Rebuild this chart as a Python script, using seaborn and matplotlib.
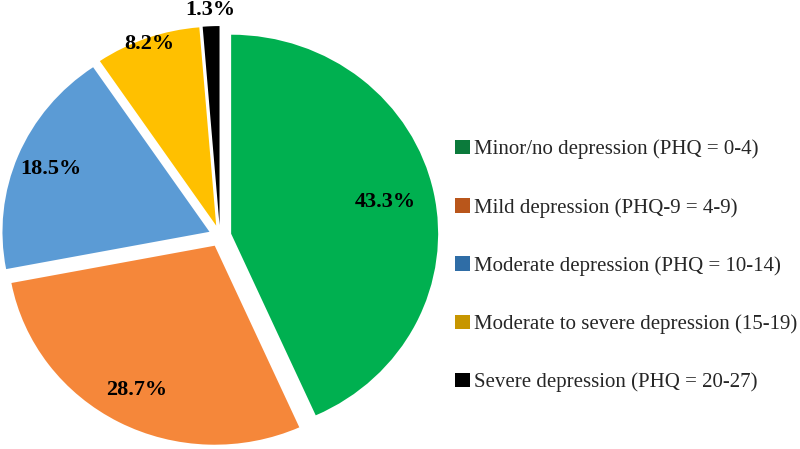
import matplotlib
matplotlib.use("Agg")
import matplotlib.pyplot as plt
import matplotlib.patches as mpatches
import numpy as np
import seaborn as sns

categories = [
    "Minor/no depression (PHQ = 0-4)",
    "Mild depression (PHQ-9 = 4-9)",
    "Moderate depression (PHQ = 10-14)",
    "Moderate to severe depression (15-19)",
    "Severe depression (PHQ = 20-27)",
]
values = [43.3, 28.7, 18.5, 8.2, 1.3]
value_labels = ["43.3%", "28.7%", "18.5%", "8.2%", "1.3%"]

slice_colors = ["#00B050", "#F5873A", "#5B9BD5", "#FFC000", "#000000"]
legend_colors = ["#0B7A3B", "#B9561B", "#2F6DA6", "#C79600", "#000000"]
label_dist = [0.76, 0.82, 0.83, 0.97, 1.08]

sns.set_theme(style="white")
plt.rcParams["font.family"] = ["Liberation Serif", "DejaVu Serif"]

fig = plt.figure(figsize=(8, 4.49), dpi=100)
W, H = 800, 449
Rh, Rv = 207.0, 199.0   # pixels per data unit (x, y)
cx, cy = 220, 236       # pixel center (from top-left)
ax_w = 450
ax = fig.add_axes([0, 0, ax_w / W, 1])

wedges, _ = ax.pie(values, colors=slice_colors, startangle=90, counterclock=False,
                   explode=[0.055] * len(values), radius=1.0,
                   wedgeprops=dict(linewidth=0), frame=True)
ax.set_aspect("auto")
ax.set_xlim(-cx / Rh, (ax_w - cx) / Rh)
ax.set_ylim(-(H - cy) / Rv, cy / Rv)
ax.axis("off")

for w, lab, d in zip(wedges, value_labels, label_dist):
    ang = np.deg2rad((w.theta1 + w.theta2) / 2)
    x0, y0 = w.center
    ax.text(x0 + d * w.r * np.cos(ang), y0 + d * w.r * np.sin(ang), lab,
            ha="center", va="center", fontsize=16, fontweight="bold", color="black")

handles = [mpatches.Patch(facecolor=c, edgecolor="none") for c in legend_colors]
leg = fig.legend(handles, categories, loc="center left",
                 bbox_to_anchor=(455 / W, (H - 266) / H),
                 frameon=False, fontsize=15, handlelength=0.7, handleheight=0.7,
                 handletextpad=0.22, labelspacing=1.85, borderpad=0, borderaxespad=0)

fig.savefig("out.png", dpi=100)
